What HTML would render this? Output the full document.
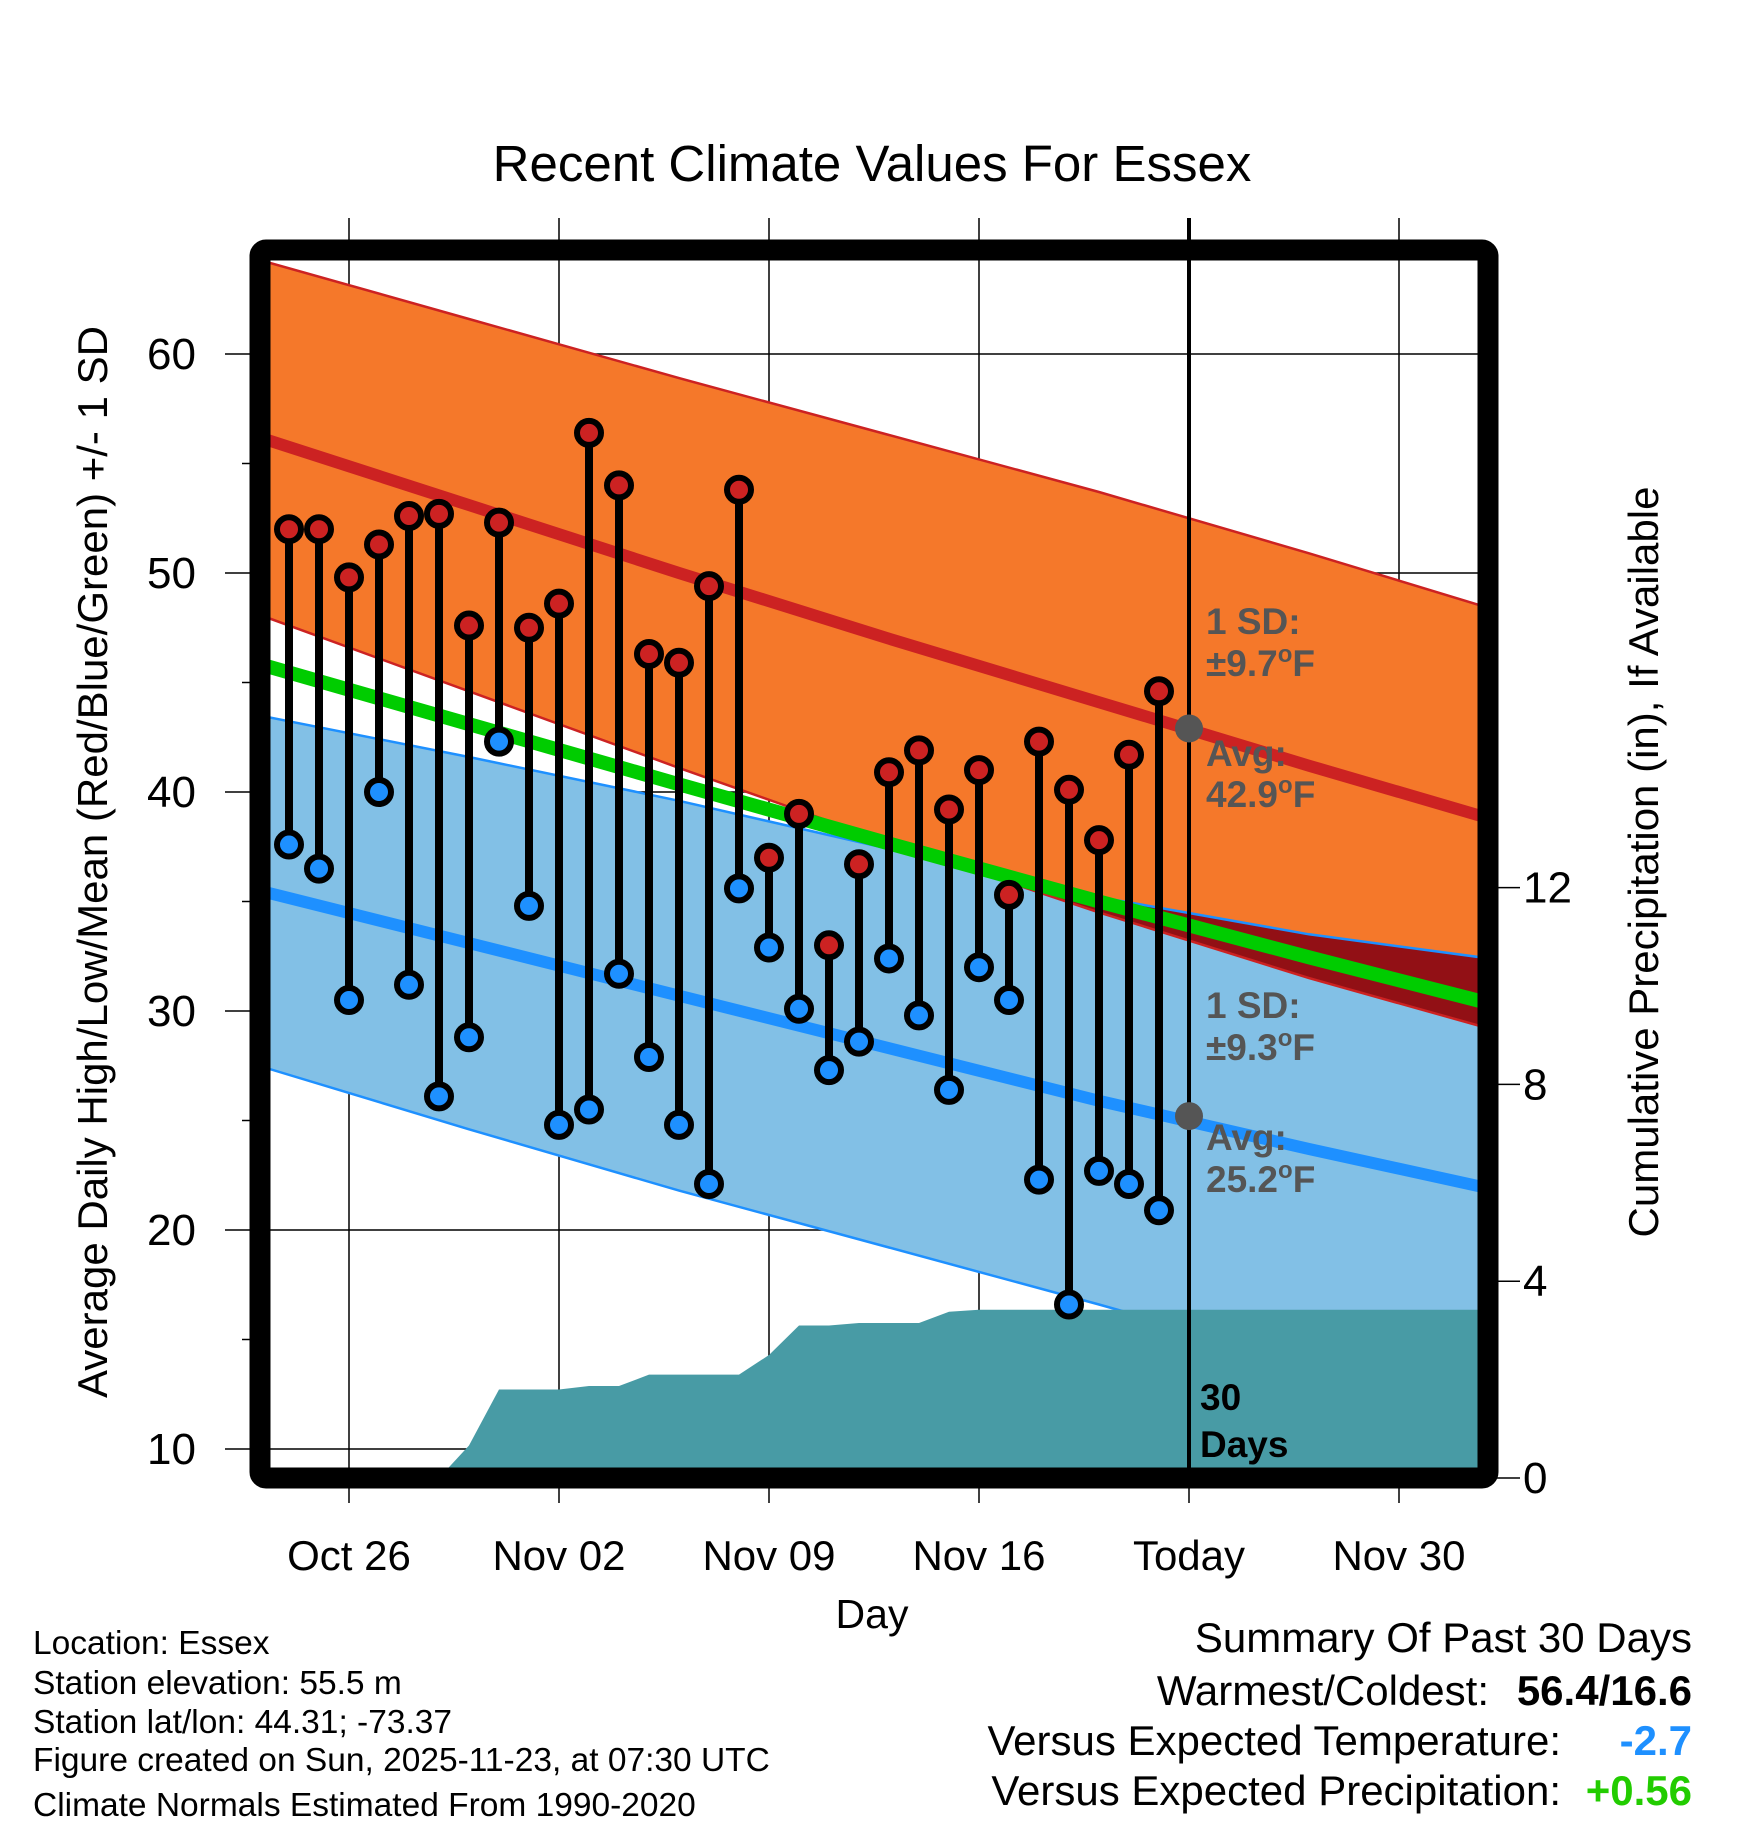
<!DOCTYPE html>
<html><head><meta charset="utf-8"><style>
html,body{margin:0;padding:0;background:#fff}
svg{display:block;font-family:"Liberation Sans",sans-serif}
</style></head><body>
<svg id="chart" width="1748" height="1828" viewBox="0 0 1748 1828" xmlns="http://www.w3.org/2000/svg">
<defs><clipPath id="plotclip"><rect x="270" y="260" width="1208" height="1208"/></clipPath></defs>
<text x="872" y="181" font-size="51" text-anchor="middle">Recent Climate Values For Essex</text>
<g id="grid"></g>
<g id="plot" clip-path="url(#plotclip)"></g>
<g id="overlay"></g>
<rect x="260" y="250" width="1228" height="1228" fill="none" stroke="#000" stroke-width="21" rx="6"/>
<g id="axes"></g>
<text x="872" y="1628" font-size="41" text-anchor="middle">Day</text>
<text transform="translate(107,862) rotate(-90)" font-size="42" text-anchor="middle">Average Daily High/Low/Mean (Red/Blue/Green) +/- 1 SD</text>
<text transform="translate(1658,862) rotate(-90)" font-size="42" text-anchor="middle">Cumulative Precipitation (in), If Available</text>
<g font-size="37" font-weight="bold" fill="#555">
<text x="1206" y="634">1 SD:</text>
<text x="1206" y="676">±9.7<tspan font-size="24" dy="-14">o</tspan><tspan dy="14">F</tspan></text>
<text x="1206" y="766">Avg:</text>
<text x="1206" y="807">42.9<tspan font-size="24" dy="-14">o</tspan><tspan dy="14">F</tspan></text>
<text x="1206" y="1018">1 SD:</text>
<text x="1206" y="1060">±9.3<tspan font-size="24" dy="-14">o</tspan><tspan dy="14">F</tspan></text>
<text x="1206" y="1150">Avg:</text>
<text x="1206" y="1192">25.2<tspan font-size="24" dy="-14">o</tspan><tspan dy="14">F</tspan></text>
</g>
<text x="1200" y="1410" font-size="37" font-weight="bold">30</text>
<text x="1200" y="1457" font-size="37" font-weight="bold">Days</text>
<g font-size="33.5">
<text x="33" y="1654">Location: Essex</text>
<text x="33" y="1694">Station elevation: 55.5 m</text>
<text x="33" y="1733">Station lat/lon: 44.31; -73.37</text>
<text x="33" y="1771">Figure created on Sun, 2025-11-23, at 07:30 UTC</text>
<text x="33" y="1816">Climate Normals Estimated From 1990-2020</text>
</g>
<g font-size="42">
<text x="1692" y="1652" text-anchor="end">Summary Of Past 30 Days</text>
<text x="1489" y="1705" text-anchor="end">Warmest/Coldest:</text>
<text x="1692" y="1705" text-anchor="end" font-weight="bold">56.4/16.6</text>
<text x="1561" y="1755" text-anchor="end">Versus Expected Temperature:</text>
<text x="1692" y="1755" text-anchor="end" font-weight="bold" fill="#1e90ff">-2.7</text>
<text x="1561" y="1805" text-anchor="end">Versus Expected Precipitation:</text>
<text x="1692" y="1805" text-anchor="end" font-weight="bold" fill="#22cc00">+0.56</text>
</g>
</svg>
<script>
// day index: 0 = Oct 24
const highs=[52.0,52.0,49.8,51.3,52.6,52.7,47.6,52.3,47.5,48.6,56.4,54.0,46.3,45.9,49.4,53.8,37.0,39.0,33.0,36.7,40.9,41.9,39.2,41.0,35.3,42.3,40.1,37.8,41.7,44.6];
const lows=[37.6,36.5,30.5,40.0,31.2,26.1,28.8,42.3,34.8,24.8,25.5,31.7,27.9,24.8,22.1,35.6,32.9,30.1,27.3,28.6,32.4,29.8,26.4,32.0,30.5,22.3,16.6,22.7,22.1,20.9];
const precip=[0,0,0,0,0,0,0.66,1.8,1.8,1.8,1.87,1.87,2.1,2.1,2.1,2.1,2.5,3.1,3.1,3.15,3.15,3.15,3.38,3.42,3.42,3.42,3.42,3.42,3.42,3.42];
const normDays=[-1,6,13,20,27,34,40];
const normHigh=[56.2,53.1,50.0,47.0,44.1,41.2,38.8];
const normLow=[35.5,33.1,30.7,28.3,25.9,23.7,21.9];
const sdHigh=[8.1,8.5,8.9,9.3,9.6,9.7,9.6];
const sdLow=[8.0,8.5,8.9,9.1,9.3,9.8,10.5];
const xTickDays=[2,9,16,23,30,37];
const xTickLabels=["Oct 26","Nov 02","Nov 09","Nov 16","Today","Nov 30"];
const yTicks=[10,20,30,40,50,60];
const pTicks=[0,4,8,12];
const todayDay=30;

const NS="http://www.w3.org/2000/svg";
const X=d=>289+d*30;
const Y=v=>354+(60-v)*21.9;
const P=p=>1478-p*49.2;
function mk(parent,tag,attrs){const e=document.createElementNS(NS,tag);for(const k in attrs)e.setAttribute(k,attrs[k]);document.getElementById(parent).appendChild(e);return e;}
const pts=(xs,ys)=>xs.map((d,i)=>X(d).toFixed(1)+","+Y(ys[i]).toFixed(1));
const hiU=normHigh.map((v,i)=>v+sdHigh[i]), hiL=normHigh.map((v,i)=>v-sdHigh[i]);
const loU=normLow.map((v,i)=>v+sdLow[i]), loL=normLow.map((v,i)=>v-sdLow[i]);
const mean=normHigh.map((v,i)=>(v+normLow[i])/2);
const rev=a=>a.slice().reverse();

xTickDays.forEach((d,i)=>{
  let l=mk('grid','line',{x1:X(d),x2:X(d),y1:218,y2:1503,stroke:'#000','stroke-width':1.5});
  
  
  let t=mk('axes','text',{x:X(d),y:1570,'font-size':42,'text-anchor':'middle'});
  t.textContent=xTickLabels[i];
  
  
});
yTicks.forEach(v=>{
  let l=mk('grid','line',{x1:225,x2:1478,y1:Y(v),y2:Y(v),stroke:'#000','stroke-width':1.5});
  
  
  let t=mk('axes','text',{x:196,y:Y(v)+15,'font-size':44,'text-anchor':'end'});
  t.textContent=v;
  
  
});
[15,25,35,45,55].forEach(v=>{
  let l=mk('axes','line',{x1:242,x2:252,y1:Y(v),y2:Y(v),stroke:'#000','stroke-width':1.5});
  
  
});
pTicks.forEach(p=>{
  let l=mk('axes','line',{x1:1495,x2:1520,y1:P(p),y2:P(p),stroke:'#000','stroke-width':1.5});
  
  
  let t=mk('axes','text',{x:1523,y:P(p)+15,'font-size':44});
  t.textContent=p;
  
  
});

const hiBand=pts(normDays,hiU).concat(rev(pts(normDays,hiL))).join(' ');
const loBand=pts(normDays,loU).concat(rev(pts(normDays,loL))).join(' ');
let e;
e=mk('plot','polygon',{points:hiBand,fill:'#f5782a'});


e=mk('plot','polygon',{points:loBand,fill:'#82c0e6'});


const cp=mk('plot','clipPath',{id:'hiclip'});
const cpp=document.createElementNS(NS,'polygon');cpp.setAttribute('points',hiBand);cp.appendChild(cpp);
e=mk('plot','polygon',{points:loBand,fill:'#921015','clip-path':'url(#hiclip)'});


[[hiU,'#cc2222',2.5,'high-upper-edge'],[hiL,'#cc2222',2.5,'high-lower-edge'],[loU,'#1e90ff',2.5,'low-upper-edge'],[loL,'#1e90ff',2.5,'low-lower-edge'],
 [normHigh,'#cc2222',12,'avg-high-line'],[normLow,'#1e90ff',12,'avg-low-line'],[mean,'#00cc00',14,'mean-line']].forEach(s=>{
  e=mk('plot','polyline',{points:pts(normDays,s[0]).join(' '),fill:'none',stroke:s[1],'stroke-width':s[2]});
  
  
});
let pp=[X(0)+','+P(0)];
precip.forEach((p,i)=>pp.push(X(i)+','+P(p)));
pp.push(X(41)+','+P(precip[precip.length-1]));pp.push(X(41)+','+P(0));
e=mk('plot','polygon',{points:pp.join(' '),fill:'#489ba5'});


e=mk('overlay','line',{x1:X(todayDay),x2:X(todayDay),y1:218,y2:1468,stroke:'#000','stroke-width':4});


highs.forEach((h,i)=>{
  e=mk('overlay','line',{x1:X(i),x2:X(i),y1:Y(h),y2:Y(lows[i]),stroke:'#000','stroke-width':8});
  
  
});
highs.forEach((h,i)=>{
  e=mk('overlay','circle',{cx:X(i),cy:Y(h),r:12,fill:'#cc2222',stroke:'#000','stroke-width':6});
  
  
  e=mk('overlay','circle',{cx:X(i),cy:Y(lows[i]),r:12,fill:'#1e90ff',stroke:'#000','stroke-width':6});
  
  
});
[[42.9,'today-avg-high-dot'],[25.2,'today-avg-low-dot']].forEach(a=>{
  e=mk('overlay','circle',{cx:X(todayDay),cy:Y(a[0]),r:14,fill:'#555'});
  
  
});
</script>
</body></html>
